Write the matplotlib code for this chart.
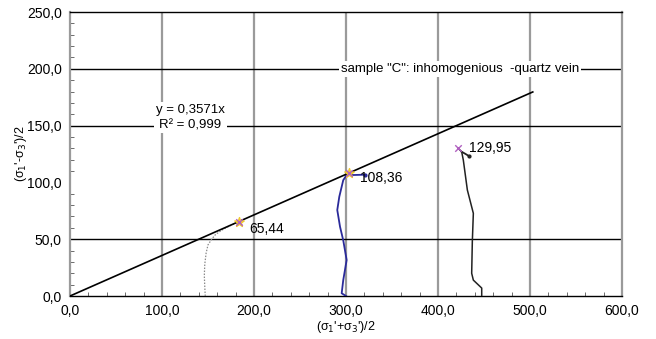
import numpy as np
import matplotlib.pyplot as plt
from matplotlib.ticker import MultipleLocator, FuncFormatter

plt.rcParams['font.family'] = ['Liberation Sans', 'DejaVu Sans']

# Linear envelope y = 0.3571x
slope = 0.3571
fit_x = [0, 503]

# Stress paths (mean stress, shear stress)
path_a_x = [147, 146.5, 146, 146.5, 148, 150, 154, 158, 165, 173, 181]
path_a_y = [0, 8, 18, 28, 38, 45, 50, 54, 58, 61.5, 64.5]

path_b_x = [300, 295.3, 297, 300.7, 297, 293.5, 290.5, 292.7, 297, 300.7, 303.4]
path_b_y = [0, 2.4, 14, 31.7, 49, 61, 75.7, 87.4, 102, 106.5, 108.36]
tail_b_x = [303.4, 307.6, 320.7]
tail_b_y = [108.36, 106.5, 106.8]

path_c_x = [447.5, 447.5, 438.4, 436.6, 437.3, 438.4, 431.9, 427.5, 425.7, 422]
path_c_y = [0, 7, 14, 20, 48, 72.8, 93.3, 119.7, 127, 129.95]
tail_c_x = [425.7, 430, 434]
tail_c_y = [127, 125, 123]

# Peak points and their labels
peak_x = [183.2, 303.4, 422]
peak_y = [65.44, 108.36, 129.95]
peak_labels = ["65,44", "108,36", "129,95"]

fig = plt.figure(figsize=(6.56, 3.39), dpi=100)
ax = fig.add_axes([0.1067, 0.1268, 0.8415, 0.8378])

ax.set_xlim(0, 600)
ax.set_ylim(0, 250)

for xv in [100, 200, 300, 400, 500]:
    ax.axvline(xv, color='#9a9a9a', lw=1.6, zorder=1)
for yv in [50, 150, 200]:
    ax.axhline(yv, color='black', lw=1.0, zorder=1)

ax.plot(path_a_x, path_a_y, color='#8a8a8a', lw=0.9, ls=(0, (1.2, 1.2)), zorder=3)
ax.plot(path_b_x, path_b_y, color='#2a2a9a', lw=1.3, zorder=3)
ax.plot(tail_b_x, tail_b_y, color='#2a2a9a', lw=1.3, marker='.', markevery=[2], ms=4, zorder=3)
ax.plot(path_c_x, path_c_y, color='#222222', lw=1.1, zorder=3)
ax.plot(tail_c_x, tail_c_y, color='#222222', lw=1.3, marker='.', markevery=[2], ms=4, zorder=3)

fx = np.array(fit_x)
ax.plot(fx, slope * fx, color='black', lw=1.2, zorder=4)

ax.scatter(peak_x[:2], peak_y[:2], marker='*', s=50, color='#f0c830', zorder=5)
ax.scatter(peak_x, peak_y, marker='x', s=22, color='#b060c0', lw=1.0, zorder=6)

offsets = [(8, -5), (8, -4), (8, 0)]
for px, py, lab, (dx, dy) in zip(peak_x, peak_y, peak_labels, offsets):
    ax.annotate(lab, (px, py), xytext=(dx, dy), textcoords='offset points',
                fontsize=10, va='center', ha='left', zorder=7)

ax.text(131, 157, "y = 0,3571x\nR² = 0,999", fontsize=9.5, ha='center', va='center',
        linespacing=1.3, zorder=6,
        bbox=dict(facecolor='white', edgecolor='none', pad=1.5))
ax.text(424, 200, 'sample "C": inhomogenious  -quartz vein', fontsize=9.5,
        ha='center', va='center', zorder=6,
        bbox=dict(facecolor='white', edgecolor='none', pad=1.5))

ax.set_xlabel("(σ$_1$'+σ$_3$')/2", fontsize=9)
ax.xaxis.set_label_coords(0.5, -0.082)
ax.set_ylabel("(σ$_1$'-σ$_3$')/2", fontsize=9)
ax.yaxis.set_label_coords(-0.075, 0.5)

ax.xaxis.set_major_locator(MultipleLocator(100))
ax.yaxis.set_major_locator(MultipleLocator(50))
ax.xaxis.set_minor_locator(MultipleLocator(20))
ax.yaxis.set_minor_locator(MultipleLocator(10))
fmt = FuncFormatter(lambda v, p: f"{v:.1f}".replace('.', ','))
ax.xaxis.set_major_formatter(fmt)
ax.yaxis.set_major_formatter(fmt)
ax.tick_params(which='major', length=0, labelsize=10, pad=6)
ax.tick_params(which='minor', direction='in', length=3, width=0.6, color='#555555')

for side in ['left', 'right']:
    ax.spines[side].set_color('#9a9a9a')
    ax.spines[side].set_linewidth(1.6)
ax.spines['top'].set_linewidth(1.0)
ax.spines['bottom'].set_linewidth(1.0)

fig.savefig('out.png', dpi=100)
